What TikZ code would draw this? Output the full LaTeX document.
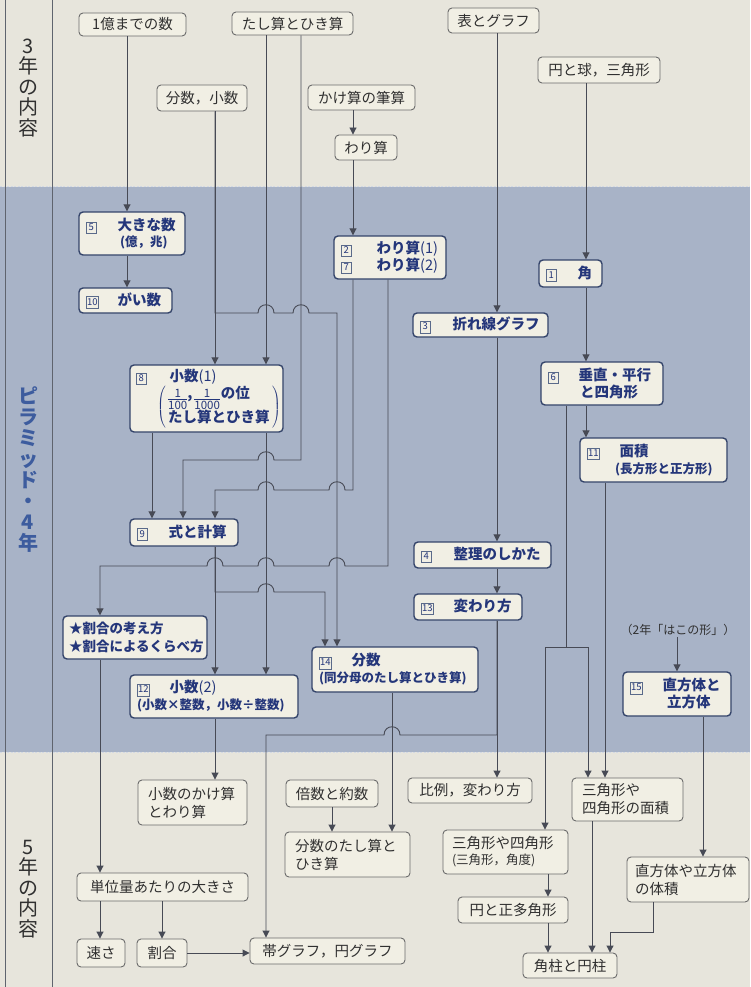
\documentclass[tikz,border=0pt]{standalone}
\usepackage{fontspec}
\setmainfont{Noto Sans CJK JP}
\usetikzlibrary{arrows.meta}

\definecolor{paper}{HTML}{E7E5DC}
\definecolor{bandc}{HTML}{A8B3C7}
\definecolor{bandedge}{HTML}{D3D9E4}
\definecolor{boxfill}{HTML}{F1EFE4}
\definecolor{bandline}{HTML}{34446A}
\definecolor{bandtext}{HTML}{24367A}
\definecolor{numline}{HTML}{5A6A8A}
\definecolor{topline}{HTML}{6B6B6B}
\definecolor{toptext}{HTML}{303030}
\definecolor{connc}{HTML}{474A55}
\definecolor{sideblue}{HTML}{3D5C9E}
\definecolor{stripline}{HTML}{5F646E}

% small framed lesson number
\newcommand\qnum[2][8pt]{{\fboxsep=0.8pt\fboxrule=0.5pt\fcolorbox{numline}{boxfill}{\makebox[#1]{\fontsize{9.5}{9.5}\selectfont\mdseries\rule[-2pt]{0pt}{9.5pt}#2}}}}
% stacked fraction set as text
\newcommand\qfrac[2]{{\arrayrulewidth=0.6pt\fontsize{11.5}{11.5}\selectfont\mdseries\tabcolsep=0pt
  \renewcommand\arraystretch{0.85}%
  \raisebox{-5pt}{\begin{tabular}{c}#1\\[-1pt]\hline\rule{0pt}{9.5pt}#2\end{tabular}}}}
\newcommand\subf{\fontsize{12.5}{14}\selectfont}

\tikzset{
  paperbox/.style={draw=topline, fill=boxfill, rounded corners=4pt, line width=0.9pt,
    text=toptext, inner sep=0pt, font=\fontsize{14.5}{18}\selectfont},
  bandbox/.style={draw=bandline, fill=boxfill, rounded corners=4pt, line width=1.4pt,
    text=bandtext, inner sep=0pt, font=\fontsize{14.5}{18}\selectfont\bfseries},
  conn/.style={draw=connc, line width=0.9pt},
  arr/.style={conn, -{Triangle[width=7pt,length=7pt]}},
  hr/.style args={#1/#2}{insert path={-- ({#1-8},#2) .. controls ({#1-8},{#2-11}) and ({#1+8},{#2-11}) .. ({#1+8},#2)}},
  hl/.style args={#1/#2}{insert path={-- ({#1+8},#2) .. controls ({#1+8},{#2-11}) and ({#1-8},{#2-11}) .. ({#1-8},#2)}},
}

\begin{document}
\begin{tikzpicture}[x=1pt,y=-1pt]
\useasboundingbox (0,0) rectangle (750,987);

% page, grade-4 band and side strip
\fill[paper] (0,0) rectangle (750,987);
\fill[bandc] (0,187) rectangle (750,752);
\draw[bandedge, line width=1pt, dash pattern=on 2pt off 1.5pt] (0,187) -- (750,187);
\draw[bandedge, line width=1pt, dash pattern=on 2pt off 1.5pt] (0,752) -- (750,752);
\draw[stripline, line width=0.8pt] (5,0) -- (5,987);
\draw[stripline, line width=0.8pt] (52,0) -- (52,987);

% side labels
\node[font=\fontsize{20}{20.5}\selectfont, text=toptext, align=center, inner sep=0pt] (lab3) at (28,88) {3\\年\\の\\内\\容};
\node[font=\fontsize{20}{21}\selectfont\bfseries, text=sideblue, align=center, inner sep=0pt] (lab4) at (28,470) {ピ\\ラ\\ミ\\ッ\\ド\\・\\4\\年};
\node[font=\fontsize{20}{20.5}\selectfont, text=toptext, align=center, inner sep=0pt] (lab5) at (28,889) {5\\年\\の\\内\\容};

% column positions
\foreach \c in {100,127,152,162,183,215,266,301,325,337,353,388,392,497,545,548,566,586,588,592,605,610,653,677,703}
  \coordinate (X\c) at (\c,0);

% grade 3
\node[paperbox, minimum width=107, minimum height=23] (oku) at (132.5,24.5) {1億までの数};
\node[paperbox, minimum width=121, minimum height=23] (tashi) at (292.5,23.5) {たし算とひき算};
\node[paperbox, minimum width=91, minimum height=25] (hyou) at (493.5,20.5) {表とグラフ};
\node[paperbox, minimum width=90, minimum height=26] (bunsho) at (202,98) {分数，小数};
\node[paperbox, minimum width=107, minimum height=25] (kakehi) at (361.5,97.5) {かけ算の筆算};
\node[paperbox, minimum width=62, minimum height=25] (warizan) at (366,147.5) {わり算};
\node[paperbox, minimum width=122, minimum height=26] (enkyu) at (599,70) {円と球，三角形};

% grade 4
\node[bandbox, minimum width=106, minimum height=43, text width=92, align=left] (ookina) at (132,233.5)
  {\mbox{\qnum{5}\hspace{21pt}大きな数}\\[-2pt]\mbox{\hspace{34pt}\subf(億，兆)}};
\node[bandbox, minimum width=93, minimum height=25, text width=79, align=left] (gaisu) at (125.5,300.5)
  {\mbox{\qnum[10pt]{10}\hspace{19pt}がい数}};
\node[bandbox, minimum width=112, minimum height=43, text width=98, align=left] (wari12) at (390,257.5)
  {\mbox{\qnum{2}\hspace{25pt}わり算{\mdseries(1)}}\\[-1pt]\mbox{\qnum{7}\hspace{25pt}わり算{\mdseries(2)}}};
\node[bandbox, minimum width=63, minimum height=27, text width=49, align=left] (kaku) at (570.5,273.5)
  {\mbox{\qnum{1}\hspace{21pt}角}};
\node[bandbox, minimum width=135, minimum height=24, text width=121, align=left] (oresen) at (480.5,325)
  {\mbox{\qnum{3}\hspace{22pt}折れ線グラフ}};
\node[bandbox, minimum width=122, minimum height=43, text width=108, align=left] (suichoku) at (602,383.5)
  {\mbox{\qnum{6}\hspace{20pt}垂直・平行}\\[-1pt]\mbox{\hspace{32pt}と四角形}};
\node[bandbox, minimum width=153, minimum height=67, text width=141, align=left] (shosu1) at (206.5,398.5)
  {\mbox{\qnum{8}\hspace{23pt}小数{\mdseries(1)}}\\[0pt]
   \mbox{\hspace{21pt}$\left(\,\begin{tabular}{@{}l@{}}\qfrac{1}{100},\hspace{2pt}\qfrac{1}{1000}\hspace{1pt}の位\\[-3pt]たし算とひき算\end{tabular}\,\right)$}};
\node[bandbox, minimum width=147, minimum height=44, text width=133, align=left] (menseki) at (653.5,460)
  {\mbox{\qnum[10pt]{11}\hspace{20pt}面積}\\[-1pt]\mbox{\hspace{28pt}\subf(長方形と正方形)}};
\node[bandbox, minimum width=108, minimum height=27, text width=94, align=left] (shiki) at (184,532.5)
  {\mbox{\qnum{9}\hspace{21pt}式と計算}};
\node[bandbox, minimum width=137, minimum height=26, text width=123, align=left] (seiri) at (482.5,555)
  {\mbox{\qnum{4}\hspace{22pt}整理のしかた}};
\node[bandbox, minimum width=108, minimum height=26, text width=94, align=left] (kawari) at (468,607)
  {\mbox{\qnum[10pt]{13}\hspace{20pt}変わり方}};
\node[bandbox, minimum width=144, minimum height=43, text width=132, align=left,
  font=\fontsize{13.5}{18}\selectfont\bfseries] (wariai) at (135,637.5)
  {\mbox{★割合の考え方}\\\mbox{★割合によるくらべ方}};
\node[bandbox, minimum width=166, minimum height=45, text width=152, align=left] (bunsu14) at (395,669.5)
  {\mbox{\qnum[10pt]{14}\hspace{20pt}分数}\\[-1pt]\mbox{\subf(同分母のたし算とひき算)}};
\node[bandbox, minimum width=168, minimum height=43, text width=154, align=left] (shosu2) at (214,696.5)
  {\mbox{\qnum[10pt]{12}\hspace{20pt}小数{\mdseries(2)}}\\[-1pt]\mbox{\subf(小数×整数，小数÷整数)}};
\node[text=toptext, font=\fontsize{12}{14}\selectfont, inner sep=1pt] (hako) at (678,630) {（2年「はこの形」）};
\node[bandbox, minimum width=108, minimum height=44, text width=94, align=left] (choku) at (677,694)
  {\mbox{\qnum[10pt]{15}\hspace{20pt}直方体と}\\[-1pt]\mbox{\hspace{37pt}立方体}};

% grade 5
\node[paperbox, minimum width=109, minimum height=45, text width=89, align=left] (shokake) at (192.5,802.5) {小数のかけ算\\とわり算};
\node[paperbox, minimum width=92, minimum height=27] (baisu) at (332,793.5) {倍数と約数};
\node[paperbox, minimum width=124, minimum height=25] (hirei) at (470,790.5) {比例，変わり方};
\node[paperbox, minimum width=111, minimum height=43, text width=91, align=left] (sankakumen) at (627.5,799.5) {三角形や\\四角形の面積};
\node[paperbox, minimum width=125, minimum height=45, text width=105, align=left] (bunsutashi) at (347.5,854.5) {分数のたし算と\\ひき算};
\node[paperbox, minimum width=125, minimum height=44, text width=107, align=left] (sankaku) at (505.5,852) {\mbox{三角形や四角形}\\[-2pt]\mbox{\subf(三角形，角度)}};
\node[paperbox, minimum width=122, minimum height=45, text width=106, align=left] (taiseki) at (688,879.5) {\mbox{直方体や立方体}\\の体積};
\node[paperbox, minimum width=171, minimum height=28] (tani) at (162.5,887) {単位量あたりの大きさ};
\node[paperbox, minimum width=110, minimum height=26] (en) at (513,910) {円と正多角形};
\node[paperbox, minimum width=48, minimum height=28] (hayasa) at (101,953) {速さ};
\node[paperbox, minimum width=50, minimum height=28] (wari5) at (162,953) {割合};
\node[paperbox, minimum width=155, minimum height=26] (obi) at (327.5,951) {帯グラフ，円グラフ};
\node[paperbox, minimum width=94, minimum height=25] (kakuchu) at (570,965.5) {角柱と円柱};

% connectors: numbers and calculation
\draw[arr] (oku.south -| X127) -- (ookina.north -| X127);
\draw[arr] (ookina.south -| X127) -- (gaisu.north -| X127);
\draw[arr] (bunsho.south -| X215) -- (shosu1.north -| X215);
\draw[arr] (bunsho.south -| X215) -- (215,313) [hr=266/313] [hr=301/313] -- (337,313) -- (bunsu14.north -| X337);
\draw[arr] (tashi.south -| X266) -- (shosu1.north -| X266);
\draw[arr] (tashi.south -| X301) -- (301,460) [hl=266/460] -- (183,460) -- (shiki.north -| X183);
\draw[arr] (kakehi.south -| X353) -- (warizan.north -| X353);
\draw[arr] (warizan.south -| X353) -- (wari12.north -| X353);
\draw[arr] (wari12.south -| X353) -- (353,490) [hl=337/490] [hl=266/490] -- (215,490) -- (shiki.north -| X215);
\draw[arr] (wari12.south -| X388) -- (388,566) [hl=337/566] [hl=266/566] [hl=215/566] -- (100,566) -- (wariai.north -| X100);
\draw[arr] (shosu1.south -| X152) -- (shiki.north -| X152);
\draw[arr] (shosu1.south -| X266) -- (shosu2.north -| X266);
\draw[arr] (shiki.south -| X215) -- (shosu2.north -| X215);
\draw[arr] (shiki.south -| X215) -- (215,592) [hr=266/592] -- (325,592) -- (bunsu14.north -| X325);
\draw[arr] (bunsu14.south -| X392) -- (bunsutashi.north -| X392);
\draw[arr] (wariai.south -| X100) -- (tani.north -| X100);
\draw[arr] (shosu2.south -| X215) -- (shokake.north -| X215);
\draw[arr] (baisu.south) -- (bunsutashi.north -| baisu.south);
\draw[arr] (tani.south -| X100) -- (hayasa.north -| X100);
\draw[arr] (tani.south -| X162) -- (wari5.north -| X162);
\draw[arr] (wari5.east) -- (obi.west |- wari5.east);

% connectors: graphs and change
\draw[arr] (hyou.south -| X497) -- (oresen.north -| X497);
\draw[arr] (oresen.south -| X497) -- (seiri.north -| X497);
\draw[arr] (seiri.south -| X497) -- (kawari.north -| X497);
\draw[arr] (kawari.south -| X497) -- (hirei.north -| X497);
\draw[arr] (kawari.south -| X497) -- (497,735) [hl=392/735] -- (266,735) -- (obi.north -| X266);

% connectors: figures
\draw[arr] (enkyu.south -| X586) -- (kaku.north -| X586);
\draw[arr] (kaku.south -| X586) -- (suichoku.north -| X586);
\draw[arr] (suichoku.south -| X586) -- (menseki.north -| X586);
\draw[arr] (suichoku.south -| X566) -- (566,647) -| (sankaku.north -| X545);
\draw[arr] (suichoku.south -| X566) -- (566,647) -| (sankakumen.north -| X588);
\draw[arr] (menseki.south -| X605) -- (sankakumen.north -| X605);
\draw[arr] (hako.south -| X677) -- (choku.north -| X677);
\draw[arr] (choku.south -| X703) -- (taiseki.north -| X703);
\draw[arr] (sankaku.south -| X548) -- (en.north -| X548);
\draw[arr] (en.south -| X548) -- (kakuchu.north -| X548);
\draw[arr] (sankakumen.south -| X592) -- (kakuchu.north -| X592);
\draw[arr] (taiseki.south -| X653) -- (653,932) -| (kakuchu.north -| X610);
\end{tikzpicture}
\end{document}
